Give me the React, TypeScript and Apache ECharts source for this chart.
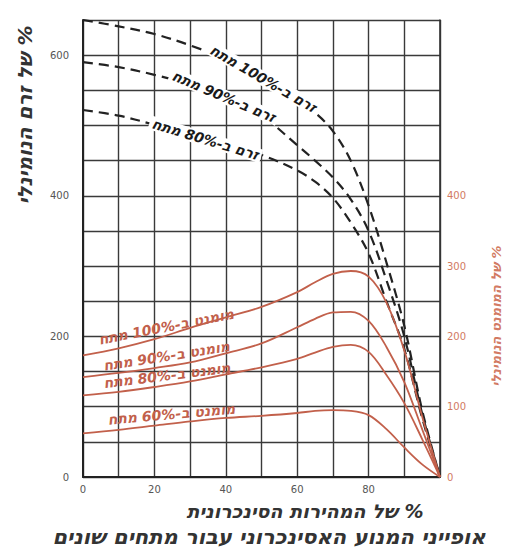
import React, { useEffect, useRef } from 'react';
import * as echarts from 'echarts';

// % of synchronous speed
const speedPct = [0, 10, 20, 30, 40, 50, 60, 65, 70, 75, 80, 85, 90, 95, 100];

// current, % of nominal (left axis)
const current100 = [650, 641, 630, 614, 594, 568, 535, 518, 492, 450, 386, 305, 215, 95, 0];
const current90 = [590, 583, 572, 558, 540, 514, 472, 450, 426, 395, 350, 280, 200, 90, 0];
const current80 = [522, 514, 501, 487, 472, 458, 436, 420, 397, 362, 318, 250, 182, 84, 0];

// torque, % of nominal (right axis)
const torque100 = [173, 183, 196, 212, 227, 242, 263, 277, 289, 293, 285, 248, 180, 86, 0];
const torque90 = [142, 148, 155, 163, 176, 190, 213, 225, 234, 235, 222, 185, 135, 68, 0];
const torque80 = [116, 121, 128, 136, 146, 156, 168, 177, 185, 188, 178, 145, 105, 54, 0];
const torque60 = [62, 67, 73, 79, 84, 87, 91, 94, 95, 94, 88, 68, 42, 18, 0];

const currentLabels = ['זרם ב-100% מתח', 'זרם ב-90% מתח', 'זרם ב-80% מתח'];
const torqueLabels = ['מומנט ב-100% מתח', 'מומנט ב-90% מתח', 'מומנט ב-80% מתח', 'מומנט ב-60% מתח'];

const leftTicks = [0, 200, 400, 600];
const rightTicks = [0, 100, 200, 300, 400];
const xTicks = [0, 20, 40, 60, 80];

const RLM = '\u200F';
const leftTitle = RLM + '% של זרם הנומינלי';
const rightTitle = RLM + '% של המומנט הנומינלי';
const xTitle = RLM + '% של המהירות הסינכרונית';
const caption = 'אופייני המנוע האסינכרוני עבור מתחים שונים';

const FONT = '"DejaVu Sans", "Liberation Sans", sans-serif';
const RED = '#c2604b';
const RED_TEXT = '#d27a63';
const INK = '#222';

function makeSeries(
  values: number[],
  yAxisIndex: number,
  dashed: boolean,
  labelIdx: number,
  labelText: string,
  rotate: number,
  offset: number[]
) {
  const color = dashed ? INK : RED;
  return {
    type: 'line',
    yAxisIndex,
    smooth: 0.35,
    symbol: 'circle',
    symbolSize: 0,
    showSymbol: true,
    silent: true,
    z: dashed ? 3 : 4,
    lineStyle: { color, width: dashed ? 2.2 : 1.8, type: dashed ? [10, 6] : 'solid' },
    itemStyle: { color },
    data: speedPct.map((x, i) => {
      const item: any = { value: [x, values[i]] };
      if (i === labelIdx) {
        item.label = {
          show: true,
          formatter: labelText,
          position: 'inside',
          rotate,
          offset,
          color: dashed ? '#1a1a1a' : RED,
          fontSize: dashed ? 14 : 14,
          fontStyle: 'italic',
          fontWeight: 'bold',
          fontFamily: FONT,
          backgroundColor: dashed ? '#ffffff' : 'transparent',
          padding: dashed ? [0, 3] : 0,
        };
      }
      return item;
    }),
  };
}

export default function App() {
  const ref = useRef<HTMLDivElement>(null);
  useEffect(() => {
    document.body.style.margin = '0';
    const chart = echarts.init(ref.current!, null, { renderer: 'svg' });
    const gridLine = { show: true, lineStyle: { color: '#3a3a3a', width: 1.4 } };
    const option: any = {
      animation: false,
      backgroundColor: '#ffffff',
      textStyle: { fontFamily: FONT },
      grid: { left: 83, right: 72, top: 20, bottom: 77 },
      xAxis: {
        type: 'value',
        min: 0,
        max: 100,
        interval: 10,
        axisLine: { show: true, lineStyle: { color: '#222', width: 2 } },
        axisTick: { show: false },
        splitLine: gridLine,
        axisLabel: {
          formatter: (v: number) => (xTicks.includes(v) ? String(v) : ''),
          color: '#555',
          fontSize: 10,
          margin: 7,
        },
      },
      yAxis: [
        {
          type: 'value',
          min: 0,
          max: 650,
          interval: 50,
          position: 'left',
          axisLine: { show: true, lineStyle: { color: '#222', width: 2 } },
          axisTick: { show: false },
          splitLine: gridLine,
          axisLabel: {
            formatter: (v: number) => (leftTicks.includes(v) ? String(v) : ''),
            color: '#555',
            fontSize: 10,
            margin: 14,
          },
        },
        {
          type: 'value',
          min: 0,
          max: 650,
          interval: 50,
          position: 'right',
          axisLine: { show: true, lineStyle: { color: '#333', width: 1.6 } },
          axisTick: { show: false },
          splitLine: { show: false },
          axisLabel: {
            formatter: (v: number) => (rightTicks.includes(v) ? String(v) : ''),
            color: RED_TEXT,
            fontSize: 10,
            margin: 7,
          },
        },
      ],
      series: [
        makeSeries(current100, 0, true, 5, currentLabels[0], -30, [2, 0]),
        makeSeries(current90, 0, true, 4, currentLabels[1], -23, [-2, 0]),
        makeSeries(current80, 0, true, 3, currentLabels[2], -17, [16, 0]),
        makeSeries(torque100, 1, false, 2, torqueLabels[0], 11, [14, -10]),
        makeSeries(torque90, 1, false, 2, torqueLabels[1], 9, [14, -10]),
        makeSeries(torque80, 1, false, 2, torqueLabels[2], 7, [14, -10]),
        makeSeries(torque60, 1, false, 2, torqueLabels[3], 5, [18, -10]),
      ],
      graphic: [
        {
          type: 'text',
          x: 25,
          y: 115,
          rotation: Math.PI / 2,
          style: {
            text: leftTitle,
            fill: '#333',
            font: `italic bold 20px ${FONT}`,
            textAlign: 'center',
            textVerticalAlign: 'middle',
            verticalAlign: 'middle',
          },
        },
        {
          type: 'text',
          x: 496,
          y: 316,
          rotation: Math.PI / 2,
          style: {
            text: rightTitle,
            fill: RED_TEXT,
            font: `italic bold 13px ${FONT}`,
            textAlign: 'center',
            textVerticalAlign: 'middle',
            verticalAlign: 'middle',
          },
        },
        {
          type: 'text',
          x: 305,
          y: 511,
          style: {
            text: xTitle,
            fill: '#333',
            font: `italic bold 19px ${FONT}`,
            textAlign: 'center',
            textVerticalAlign: 'middle',
            verticalAlign: 'middle',
          },
        },
        {
          type: 'text',
          x: 269,
          y: 537,
          style: {
            text: caption,
            fill: '#333',
            font: `italic bold 21px ${FONT}`,
            textAlign: 'center',
            textVerticalAlign: 'middle',
            verticalAlign: 'middle',
          },
        },
      ],
    };
    chart.setOption(option);
    return () => chart.dispose();
  }, []);
  return <div ref={ref} style={{ width: 512, height: 554 }} />;
}
